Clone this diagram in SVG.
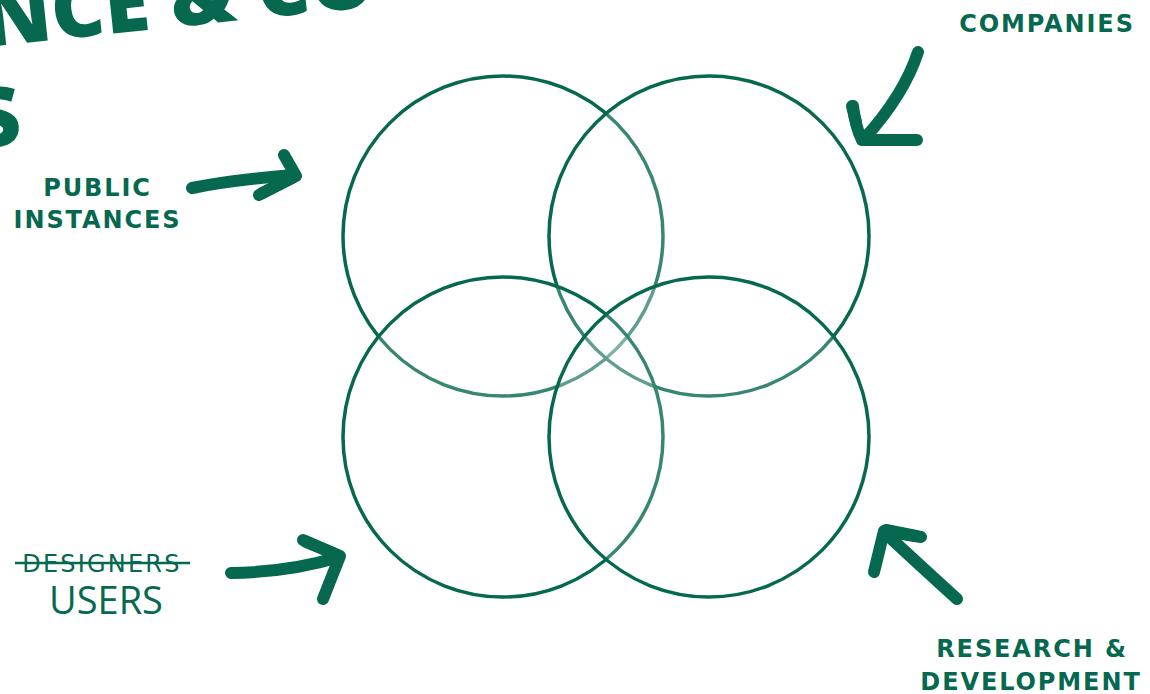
<svg xmlns="http://www.w3.org/2000/svg" width="1150" height="694" viewBox="0 0 1150 694">
  <style>
    .ring { fill: #ffffff; fill-opacity: 0.2; stroke: #05684f; stroke-width: 3.5; }
    .lbl { font-family: "DejaVu Sans", "Liberation Sans", sans-serif; font-weight: bold; font-size: 24px; fill: #05684f; text-anchor: middle; letter-spacing: 1.9px; }
    .title { font-family: "Open Sans", "Liberation Sans", sans-serif; font-weight: 800; font-size: 82px; fill: #05684f; }
    .stroke { fill: none; stroke: #05684f; stroke-width: 12; stroke-linecap: round; stroke-linejoin: round; }
  </style>
  <rect width="1150" height="694" fill="#ffffff"/>

  <g id="title" transform="translate(-14,47) rotate(-6)">
    <text class="title" x="0" y="0">NCE &amp; CO</text>
    <text class="title" x="27" y="100" text-anchor="end">S</text>
  </g>

  <g id="circles">
    <g id="circle-tl"><circle class="ring" cx="503" cy="236" r="160"/></g>
    <g id="circle-tr"><circle class="ring" cx="709" cy="236" r="160"/></g>
    <g id="circle-bl"><circle class="ring" cx="503" cy="437" r="160"/></g>
    <g id="circle-br"><circle class="ring" cx="709" cy="437" r="160"/></g>
  </g>

  <g id="connectors">
    <path class="stroke" d="M192,188 Q232,180 294,175"/>
    <path class="stroke" d="M284,155 L296,176 L259,195"/>
    <path class="stroke" stroke-width="15" d="M292,178 L262,193"/>

    <path class="stroke" d="M918,52 Q904,95 864,139"/>
    <path class="stroke" d="M853,106 Q855,126 862,140 L917,140"/>
    <path class="stroke" stroke-width="16" d="M852,106 L856,122"/>

    <path class="stroke" d="M231,573 Q290,572 339,557"/>
    <path class="stroke" d="M303,540 L340,556 L323,599"/>
    <path class="stroke" stroke-width="17" d="M306,542 L335,554"/>

    <path class="stroke" d="M957,599 Q925,570 884,532"/>
    <path class="stroke" d="M874,572 L884,531 L921,537"/>
    <path class="stroke" stroke-width="16" d="M886,530 L916,536"/>
  </g>

  <g id="label-public">
    <text class="lbl" x="97.5" y="196">PUBLIC</text>
    <text class="lbl" x="97.5" y="228">INSTANCES</text>
  </g>
  <g id="label-companies">
    <text class="lbl" x="1047" y="32">COMPANIES</text>
  </g>
  <g id="label-users">
    <text x="102" y="572" text-anchor="middle" font-family="DejaVu Sans, sans-serif" font-size="24" fill="#05684f" letter-spacing="2.2">DESIGNERS</text>
    <line x1="15" y1="563" x2="190" y2="563" stroke="#05684f" stroke-width="2.5"/>
    <text x="106" y="614" text-anchor="middle" font-family="Open Sans, Liberation Sans, sans-serif" font-size="38" fill="#05684f">USERS</text>
  </g>
  <g id="label-rd">
    <text class="lbl" x="1032" y="657">RESEARCH &amp;</text>
    <text class="lbl" x="1031" y="690">DEVELOPMENT</text>
  </g>
</svg>
